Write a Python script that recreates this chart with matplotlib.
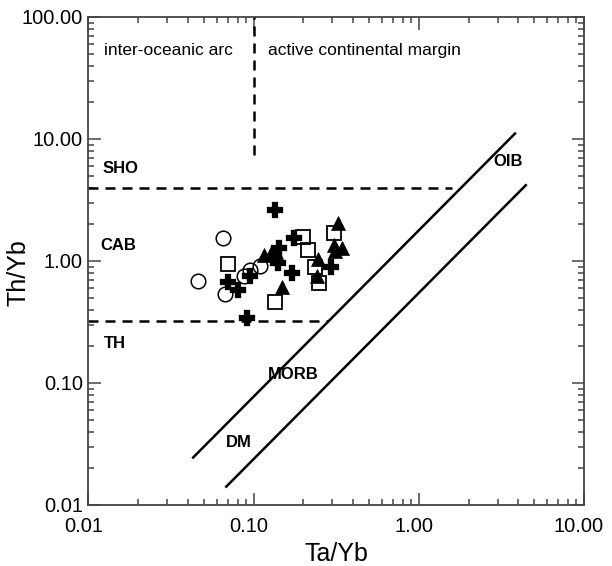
import matplotlib
matplotlib.use('Agg')
import matplotlib.pyplot as plt
from matplotlib.ticker import LogLocator, FixedFormatter, FixedLocator, NullFormatter
from matplotlib.transforms import ScaledTranslation

plt.rcParams['font.family'] = ['Liberation Sans', 'DejaVu Sans']

# sample groups (Ta/Yb, Th/Yb)
plus_x = [0.135, 0.176, 0.143, 0.141, 0.170, 0.295, 0.0703, 0.0809, 0.0953, 0.091]
plus_y = [2.62, 1.54, 1.28, 0.97, 0.80, 0.885, 0.677, 0.578, 0.753, 0.339]

square_x = [0.0703, 0.198, 0.212, 0.305, 0.236, 0.248, 0.135]
square_y = [0.945, 1.57, 1.23, 1.69, 0.898, 0.656, 0.464]

circle_x = [0.065, 0.0463, 0.0671, 0.0875, 0.0953, 0.109]
circle_y = [1.55, 0.686, 0.533, 0.753, 0.843, 0.91]

tri_x = [0.323, 0.305, 0.342, 0.312, 0.246, 0.243, 0.148, 0.116, 0.127, 0.137]
tri_y = [2.04, 1.34, 1.27, 1.21, 1.04, 0.76, 0.612, 1.12, 1.16, 1.19]

# field boundaries
upper_x = [0.0425, 3.87]
upper_y = [0.0241, 11.27]
lower_x = [0.0674, 4.5]
lower_y = [0.0139, 4.25]
sho_x = [0.01, 1.58]
sho_y = [4.0, 4.0]
th_x = [0.01, 0.28]
th_y = [0.32, 0.32]
arc_x = [0.1, 0.1]
arc_y = [7.4, 100]

xticks = [0.01, 0.1, 1, 10]
xlabels = ['0.01', '0.10', '1.00', '10.00']
yticks = [0.01, 0.1, 1, 10, 100]
ylabels = ['0.01', '0.10', '1.00', '10.00', '100.00']

fig = plt.figure(figsize=(6.12, 5.66), dpi=100)
ax = fig.add_axes([0.1446, 0.1078, 0.8096, 0.8622])
ax.set_xscale('log')
ax.set_yscale('log')
ax.set_xlim(0.01, 10)
ax.set_ylim(0.01, 100)

lw = 1.8
ax.plot(upper_x, upper_y, color='black', lw=lw, solid_capstyle='butt')
ax.plot(lower_x, lower_y, color='black', lw=lw, solid_capstyle='butt')
for xs, ys in [(sho_x, sho_y), (th_x, th_y), (arc_x, arc_y)]:
    ax.plot(xs, ys, color='black', lw=lw, dashes=(4, 2.8), dash_capstyle='butt')

ax.plot(circle_x, circle_y, 'o', ms=10.5, mfc='none', mec='black', mew=1.1, ls='none')
ax.plot(square_x, square_y, 's', ms=10, mfc='none', mec='black', mew=1.3, ls='none')
ax.plot(plus_x, plus_y, 'P', ms=11, mfc='black', mec='black', mew=0.2, ls='none')
ax.plot(tri_x, tri_y, '^', ms=10.5, mfc='black', mec='black', mew=0.5, ls='none')

ax.text(0.0124, 53.6, 'inter-oceanic arc', fontsize=12.5, va='center', ha='left')
ax.text(0.1225, 53.6, 'active continental margin', fontsize=12.5, va='center', ha='left')
bold = dict(fontsize=12, fontweight='bold', va='center', ha='left')
ax.text(0.0122, 5.78, 'SHO', **bold)
ax.text(0.01174, 1.35, 'CAB', **bold)
ax.text(0.01247, 0.211, 'TH', **bold)
ax.text(2.84, 6.52, 'OIB', **bold)
ax.text(0.1225, 0.1164, 'MORB', **bold)
ax.text(0.0679, 0.0327, 'DM', **bold)

spine_col = '#444444'
for s in ax.spines.values():
    s.set_color(spine_col)
    s.set_linewidth(1.3)

ax.xaxis.set_major_locator(FixedLocator(xticks))
ax.xaxis.set_major_formatter(FixedFormatter(xlabels))
ax.yaxis.set_major_locator(FixedLocator(yticks))
ax.yaxis.set_major_formatter(FixedFormatter(ylabels))
ax.xaxis.set_minor_locator(LogLocator(base=10, subs=range(2, 10)))
ax.yaxis.set_minor_locator(LogLocator(base=10, subs=range(2, 10)))
ax.xaxis.set_minor_formatter(NullFormatter())
ax.yaxis.set_minor_formatter(NullFormatter())
ax.tick_params(which='both', direction='in', top=True, right=True, color=spine_col, width=1.1)
ax.tick_params(which='major', length=9)
ax.tick_params(which='minor', length=4.5)
ax.tick_params(axis='x', which='major', labelsize=14.5, pad=9)
ax.tick_params(axis='y', which='major', labelsize=14.5, pad=4)

# x tick labels sit a little left of their ticks in the original
shift = ScaledTranslation(-5 / 100, 0, fig.dpi_scale_trans)
for lab in ax.get_xticklabels():
    lab.set_transform(lab.get_transform() + shift)

ax.set_xlabel('Ta/Yb', fontsize=18, labelpad=4)
ax.set_ylabel('Th/Yb', fontsize=18)
ax.yaxis.set_label_coords(-0.118, 0.477)

fig.savefig('out.png', dpi=100)
